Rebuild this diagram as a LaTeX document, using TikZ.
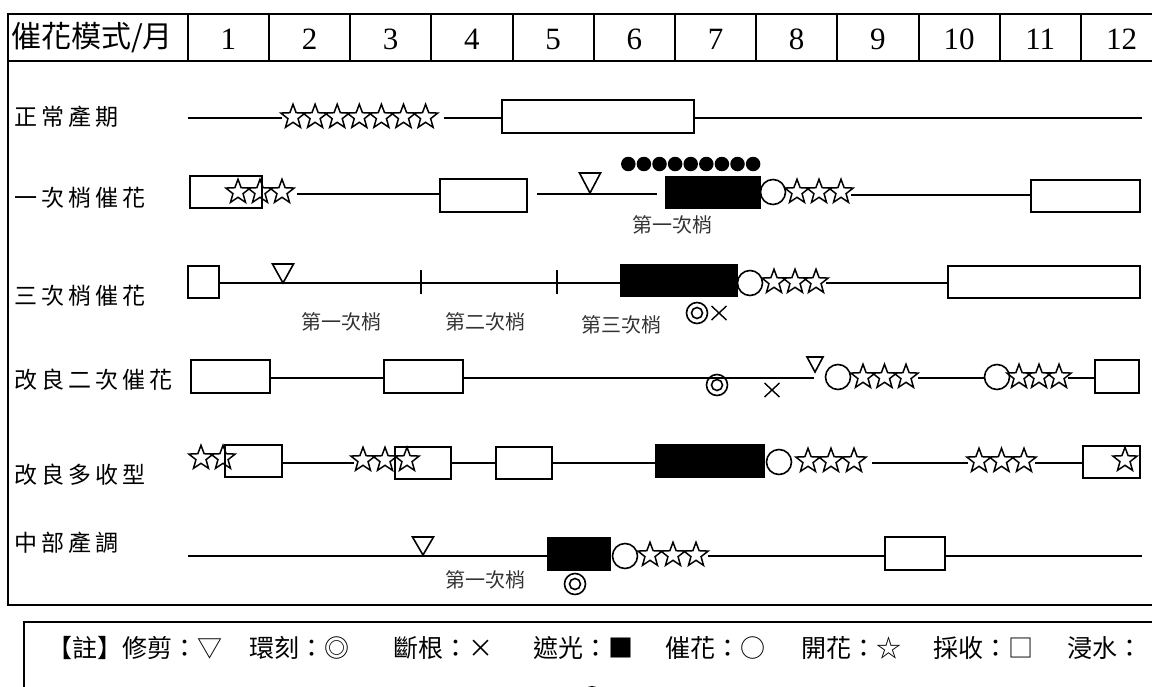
\documentclass[tikz,border=0pt]{standalone}
\usepackage{fontspec}
\setmainfont{Liberation Serif}
\newfontfamily\cjk{Noto Sans CJK TC}
\usetikzlibrary{shapes.geometric}
\tikzset{
  tl/.style={line width=2pt},
  ln/.style={line width=1.6pt},
  obox/.style={draw, line width=1.6pt},
  bbox/.style={fill=black},
  st/.style={star, star points=5, star point ratio=2.4, draw, line width=1.5pt, minimum size=25.5pt, inner sep=0pt},
  cuihua/.style={circle, draw, line width=1.6pt, minimum size=25pt, inner sep=0pt},
  dot/.style={circle, fill=black, minimum size=14.5pt, inner sep=0pt},
  lab/.style={font=\cjk\fontsize{23}{23}\selectfont, anchor=west, inner sep=0pt},
  small/.style={font=\cjk\fontsize{20}{20}\selectfont, inner sep=0pt, text=black!80},
  mon/.style={font=\fontsize{31}{31}\selectfont, inner sep=0pt},
  leg/.style={font=\cjk\fontsize{25}{25}\selectfont, anchor=west, inner sep=0pt},
}
\newcommand\gapx{\hspace{4pt}}
\newcommand\tri[4]{\draw[line width=1.6pt] ({#1-#3/2},#2) -- ({#1+#3/2},#2) -- (#1,{#2+#4}) -- cycle;}
\newcommand\ring[2]{\draw[line width=1.6pt] (#1,#2) circle[radius=10.5]; \draw[line width=1.6pt] (#1,#2) circle[radius=5.5];}
\newcommand\crossm[2]{\draw[line width=1.4pt] ({#1-7.5},{#2-7}) -- ({#1+7.5},{#2+7}) ({#1-7.5},{#2+7}) -- ({#1+7.5},{#2-7});}
\newcommand\stars[4]{\foreach \k in {1,...,#3}{\node[st] at ({#1+(\k-1)*#4},#2) {};}}
\begin{document}
\begin{tikzpicture}[x=1pt,y=-1pt]
\useasboundingbox (0,0) rectangle (1152,686);
% table frame
\draw[tl] (1160,14) -- (8,14) -- (8,605) -- (1160,605);
\draw[tl] (8,61) -- (1160,61);
\foreach \k in {0,...,11} \draw[tl] ({187.7+\k*81.2},14) -- ({187.7+\k*81.2},61);
\foreach \m in {1,...,12} \node[mon] (m\m) at ({187.7+(\m-0.5)*81.2},39) {\m};
\node[font=\cjk\fontsize{30}{30}\selectfont, anchor=west, inner sep=0pt] (hd) at (11,38) {催花模式/月};
% labels
\node[lab] (l1) at (14,117) {正\gapx 常\gapx 產\gapx 期};
\node[lab] (l2) at (14,198) {一\gapx 次\gapx 梢\gapx 催\gapx 花};
\node[lab] (l3) at (14,296) {三\gapx 次\gapx 梢\gapx 催\gapx 花};
\node[lab] (l4) at (14,380) {改\gapx 良\gapx 二\gapx 次\gapx 催\gapx 花};
\node[lab] (l5) at (14,475) {改\gapx 良\gapx 多\gapx 收\gapx 型};
\node[lab] (l6) at (14,543) {中\gapx 部\gapx 產\gapx 調};
% row 1
\draw[ln] (188,118) -- (282,118);
\stars{293}{117}{7}{22.1}
\draw[ln] (444,118) -- (502,118);
\draw[obox] (502,100) rectangle (694,133);
\draw[ln] (694,118) -- (1142,118);
% row 2
\draw[obox] (190,176) rectangle (262,208);
\stars{238}{192}{3}{22}
\draw[ln] (297,194) -- (440,194);
\draw[obox] (440,179) rectangle (527,212);
\draw[ln] (537,194) -- (657,194);
\tri{590}{173}{21}{20}
\foreach \k in {0,...,8} \node[dot] at ({628.3+\k*15.6},164) {};
\fill (665,176) rectangle (761,209);
\node[cuihua] at (773,192) {};
\stars{797}{192}{3}{22}
\draw[ln] (851,195) -- (1031,195);
\draw[obox] (1031,180) rectangle (1140,212);
\node[small] at (672,225) {第一次梢};
% row 3
\draw[obox] (188,266) rectangle (219,298);
\draw[ln] (219,283) -- (620,283);
\tri{283}{264}{21}{19}
\draw[ln] (421,270) -- (421,294) (557,270) -- (557,294);
\fill (620,264) rectangle (738,297);
\node[cuihua] at (750,283) {};
\stars{774}{282}{3}{21}
\draw[ln] (826,283) -- (948,283);
\draw[obox] (948,266) rectangle (1140,298);
\node[small] at (341,322) {第一次梢};
\node[small] at (485,322) {第二次梢};
\node[small] at (621,325) {第三次梢};
\ring{697}{313}
\crossm{719}{313}
% row 4
\draw[obox] (191,360) rectangle (270,393);
\draw[ln] (270,378) -- (384,378);
\draw[obox] (384,360) rectangle (463,393);
\draw[ln] (463,378) -- (814,378);
\ring{717}{385}
\crossm{772}{390}
\tri{815}{357}{16}{15}
\node[cuihua] at (838,377) {};
\stars{863}{377}{3}{21.5}
\draw[ln] (918,378) -- (985,378);
\node[cuihua] at (997,377) {};
\stars{1019}{377}{3}{20}
\draw[ln] (1068,378) -- (1095,378);
\draw[obox] (1095,360) rectangle (1139,393);
% row 5
\stars{201}{458}{2}{22}
\draw[obox] (225,445) rectangle (282,477);
\draw[ln] (282,463) -- (354,463);
\stars{363}{460}{3}{22}
\draw[obox] (395,447) rectangle (451,479);
\draw[ln] (451,463) -- (496,463);
\draw[obox] (496,447) rectangle (552,479);
\draw[ln] (552,463) -- (655,463);
\fill (655,444) rectangle (765,478);
\node[cuihua] at (779,462) {};
\stars{808}{461}{3}{23}
\draw[ln] (872,463) -- (968,463);
\stars{979}{461}{3}{22.5}
\draw[ln] (1035,463) -- (1083,463);
\draw[obox] (1083,446) rectangle (1140,478);
\node[st] at (1125,460) {};
% row 6
\draw[ln] (188,556) -- (547,556);
\tri{423}{537}{21}{18}
\fill (547,537) rectangle (611,571);
\node[small] at (485,580) {第一次梢};
\ring{575}{584}
\node[cuihua] at (625,556) {};
\stars{650}{555}{3}{23}
\draw[ln] (708,556) -- (885,556);
\draw[obox] (885,537) rectangle (945,570);
\draw[ln] (945,556) -- (1142,556);
% legend
\draw[tl] (24,700) -- (24,622) -- (1160,622);
\node[leg] (g1) at (47,648) {【註】修剪：▽};
\node[leg] (g2) at (249,648) {環刻：◎};
\node[leg] (g3) at (393,648) {斷根：×};
\node[leg] (g4) at (533,648) {遮光：■};
\node[leg] (g5) at (665,648) {催花：○};
\node[leg] (g6) at (801,648) {開花：☆};
\node[leg] (g7) at (933,648) {採收：□};
\node[leg] (g8) at (1067,648) {浸水：};
\fill (592,696) circle[radius=10];
\end{tikzpicture}
\end{document}
